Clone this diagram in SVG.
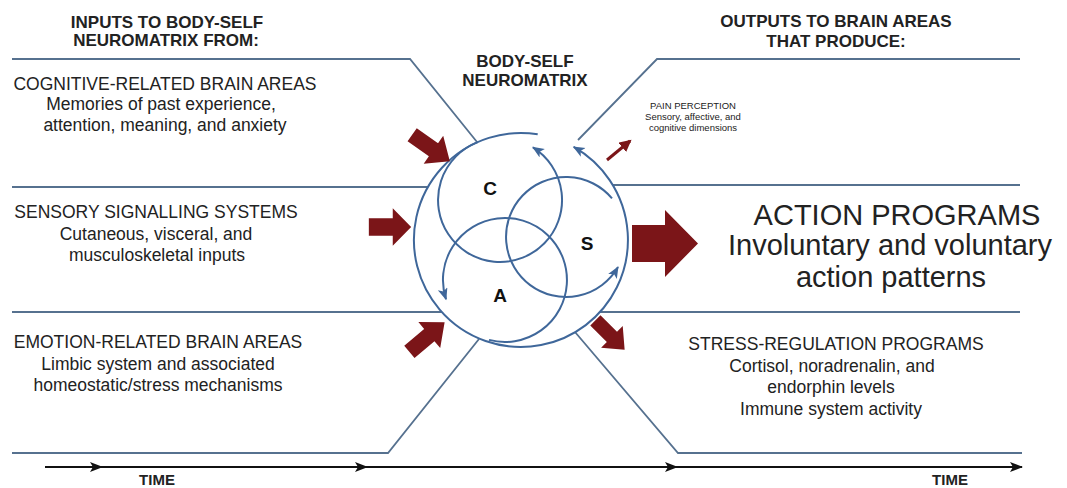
<svg xmlns="http://www.w3.org/2000/svg" width="1067" height="488" viewBox="0 0 1067 488">
<style>
.bg{fill:#ffffff}
.ln{fill:none;stroke:#56718f;stroke-width:1.8}
.arc{fill:none;stroke:#3f679a;stroke-width:2}
.axis{fill:none;stroke:#111;stroke-width:2}
.red{fill:#7b1518}
.t{font-family:"Liberation Sans",Arial,sans-serif;fill:#222;text-anchor:middle}
.h{font-weight:bold;font-size:17px}
.b{font-size:17.5px}
.big{font-size:29px}
.sm{font-size:9.5px}
.lab{font-weight:bold;font-size:19px;fill:#111}
</style>
<defs>
<marker id="bh" markerUnits="userSpaceOnUse" markerWidth="14" markerHeight="12" refX="11" refY="5" orient="auto">
<path d="M0,0 L12,5 L0,10 L3,5 Z" fill="#3f679a"/>
</marker>
<marker id="kh" markerUnits="userSpaceOnUse" markerWidth="14" markerHeight="12" refX="12" refY="5" orient="auto">
<path d="M0,0 L13,5 L0,10 L3,5 Z" fill="#111"/>
</marker>
<marker id="rh" markerUnits="userSpaceOnUse" markerWidth="14" markerHeight="14" refX="10" refY="6" orient="auto">
<path d="M0,0 L12,6 L0,12 Z" fill="#7b1518"/>
</marker>
<path id="blk" d="M-23,-8 L3,-8 L3,-17 L23,0 L3,17 L3,8 L-23,8 Z"/>
</defs>
<rect class="bg" x="0" y="0" width="1067" height="488"/>

<g id="connectors">
<polyline class="ln" points="12,59 410,59 477,142"/>
<line class="ln" x1="12" y1="187" x2="428" y2="187"/>
<line class="ln" x1="12" y1="312" x2="442" y2="312"/>
<polyline class="ln" points="12,453 388,453 479,339"/>
<polyline class="ln" points="1020,59 657,59 578,140"/>
<line class="ln" x1="613" y1="185" x2="1020" y2="185"/>
<line class="ln" x1="600" y1="312" x2="1020" y2="312"/>
<polyline class="ln" points="1022,453 678,453 575,332"/>
<path class="axis" d="M45,467 L102,467" marker-end="url(#kh)"/>
<path class="axis" d="M100,467 L367,467" marker-end="url(#kh)"/>
<path class="axis" d="M365,467 L677,467" marker-end="url(#kh)"/>
<path class="axis" d="M675,467 L1022,467" marker-end="url(#kh)"/>
</g>

<g id="neuromatrix">
<path class="arc" d="M537.7,134.3 A107,107 0 1 0 573.7,146.9" marker-end="url(#bh)"/>
<path class="arc" d="M477.8,142.1 A62,62 0 1 0 532.9,147.4" marker-end="url(#bh)"/>
<path class="arc" d="M612,198.4 A60,60 0 1 0 618,267" marker-end="url(#bh)"/>
<path class="arc" d="M489,339.9 A62,62 0 1 0 446,299.2" marker-end="url(#bh)"/>
<text class="t lab" x="490" y="195">C</text>
<text class="t lab" x="587" y="250">S</text>
<text class="t lab" x="500" y="302">A</text>
<text class="t h" x="525" y="67">BODY-SELF</text>
<text class="t h" x="525" y="86">NEUROMATRIX</text>
</g>

<g id="red-arrows">
<use href="#blk" class="red" transform="translate(431,148) rotate(35)"/>
<use href="#blk" class="red" transform="translate(390,227) scale(0.92,1.1)"/>
<use href="#blk" class="red" transform="translate(427,337) rotate(-40)"/>
<path class="red" d="M632,225 L665,225 L665,210 L698,243.5 L665,277 L665,262 L632,262 Z"/>
<use href="#blk" class="red" transform="translate(610,335) rotate(45) scale(0.9)"/>
<line x1="607" y1="160" x2="630" y2="141" stroke="#7b1518" stroke-width="3" marker-end="url(#rh)"/>
</g>

<g id="header-inputs">
<text class="t h" x="167" y="28">INPUTS TO BODY-SELF</text>
<text class="t h" x="166" y="46">NEUROMATRIX FROM:</text>
</g>
<g id="header-outputs">
<text class="t h" x="836" y="27">OUTPUTS TO BRAIN AREAS</text>
<text class="t h" x="836" y="47">THAT PRODUCE:</text>
</g>

<g id="cognitive">
<text class="t b" x="165" y="90">COGNITIVE-RELATED BRAIN AREAS</text>
<text class="t b" x="161" y="110">Memories of past experience,</text>
<text class="t b" x="165" y="131">attention, meaning, and anxiety</text>
</g>
<g id="sensory">
<text class="t b" x="156" y="218">SENSORY SIGNALLING SYSTEMS</text>
<text class="t b" x="156" y="240">Cutaneous, visceral, and</text>
<text class="t b" x="157" y="261">musculoskeletal inputs</text>
</g>
<g id="emotion">
<text class="t b" x="158" y="348">EMOTION-RELATED BRAIN AREAS</text>
<text class="t b" x="158" y="370">Limbic system and associated</text>
<text class="t b" x="158" y="391">homeostatic/stress mechanisms</text>
</g>
<g id="pain">
<text class="t sm" x="693" y="109">PAIN PERCEPTION</text>
<text class="t sm" x="693" y="120">Sensory, affective, and</text>
<text class="t sm" x="693" y="131">cognitive dimensions</text>
</g>
<g id="action">
<text class="t big" x="897" y="225">ACTION PROGRAMS</text>
<text class="t big" x="890" y="255">Involuntary and voluntary</text>
<text class="t big" x="891" y="287">action patterns</text>
</g>
<g id="stress">
<text class="t b" x="836" y="350">STRESS-REGULATION PROGRAMS</text>
<text class="t b" x="832" y="372">Cortisol, noradrenalin, and</text>
<text class="t b" x="831" y="393">endorphin levels</text>
<text class="t b" x="831" y="415">Immune system activity</text>
</g>
<g id="time-labels">
<text class="t" x="157" y="485" style="font-weight:bold;font-size:15px">TIME</text>
<text class="t" x="950" y="485" style="font-weight:bold;font-size:15px">TIME</text>
</g>
</svg>
